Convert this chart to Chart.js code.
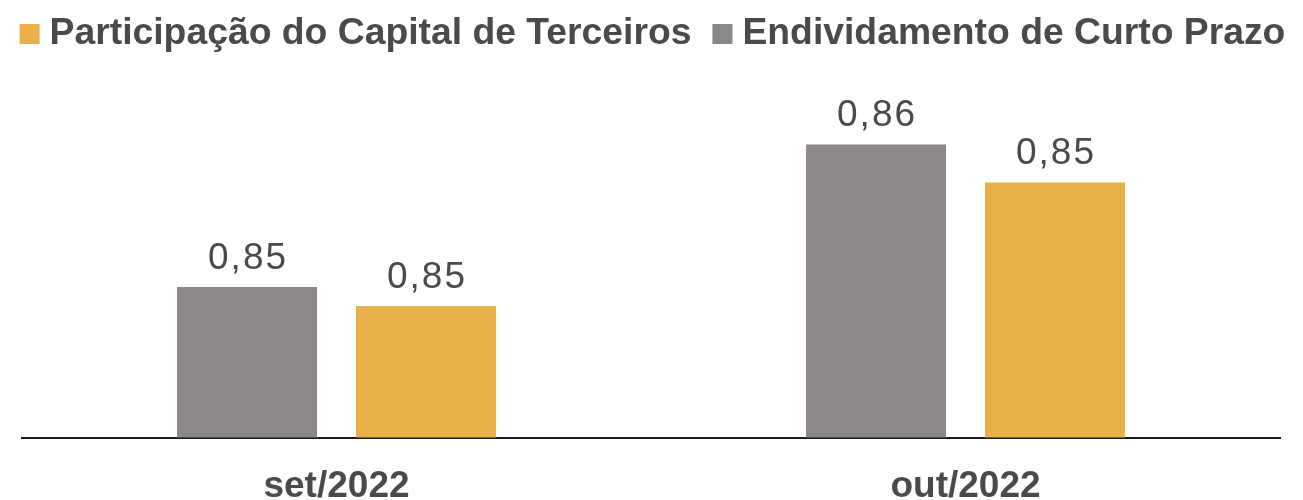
<!DOCTYPE html>
<html>
<head>
<meta charset="utf-8">
<script src="https://cdn.jsdelivr.net/npm/chart.js@4.4.0/dist/chart.umd.min.js"></script>
<style>
  html, body { margin: 0; padding: 0; overflow: hidden; background: #fff; }
  canvas { display: block; }
</style>
</head>
<body>
<canvas id="barChart" width="1303" height="536"></canvas>
<script>
const months = ['set/2022', 'out/2022'];
const curtoPrazo = [0.848, 0.857];
const capitalTerceiros = [0.8468, 0.8546];

const FONT = '"Liberation Sans", Arial, sans-serif';
const TEXT_COLOR = '#4a4a4a';

// legend drawn by hand so the spacing matches (orange entry first)
const customLegend = {
    id: 'customLegend',
    afterDraw(chart) {
        const ctx = chart.ctx;
        const items = chart.data.datasets.slice().reverse();
        ctx.save();
        ctx.font = 'bold 37.3px ' + FONT;
        ctx.textBaseline = 'middle';
        const box = 20, gapText = 10, gapItem = 21;
        const widths = items.map(ds => ctx.measureText(ds.label).width);
        let total = 0;
        widths.forEach((w, i) => { total += box + gapText + w + (i > 0 ? gapItem : 0); });
        let x = (chart.width - total) / 2 + 1;
        const cy = 34;
        items.forEach((ds, i) => {
            ctx.fillStyle = ds.backgroundColor;
            ctx.fillRect(x, cy - box / 2, box, box);
            x += box + gapText;
            ctx.fillStyle = TEXT_COLOR;
            ctx.fillText(ds.label, x, cy);
            x += widths[i] + gapItem;
        });
        ctx.restore();
    }
};

const valueLabels = {
    id: 'valueLabels',
    afterDatasetsDraw(chart) {
        const ctx = chart.ctx;
        ctx.save();
        ctx.font = '37px ' + FONT;
        ctx.letterSpacing = '2px';
        ctx.fillStyle = TEXT_COLOR;
        ctx.textAlign = 'center';
        ctx.textBaseline = 'alphabetic';
        chart.data.datasets.forEach((ds, i) => {
            chart.getDatasetMeta(i).data.forEach((bar, j) => {
                const txt = ds.data[j].toFixed(2).replace('.', ',');
                ctx.fillText(txt, bar.x + 1, bar.y - 18);
            });
        });
        ctx.restore();
    }
};

const ctx = document.getElementById('barChart').getContext('2d');
new Chart(ctx, {
    type: 'bar',
    data: {
        labels: months,
        datasets: [{
            label: 'Endividamento de Curto Prazo',
            data: curtoPrazo,
            backgroundColor: '#8b8786'
        }, {
            label: 'Participação do Capital de Terceiros',
            data: capitalTerceiros,
            backgroundColor: '#e9af48'
        }]
    },
    options: {
        responsive: false,
        animation: false,
        categoryPercentage: 0.569,
        barPercentage: 0.782,
        layout: { padding: { top: 70, left: 22, right: 23, bottom: 0 } },
        plugins: {
            legend: { display: false },
            tooltip: { enabled: false }
        },
        scales: {
            x: {
                grid: { display: false, drawTicks: false },
                border: { display: true, color: '#1a1a1a', width: 2 },
                ticks: {
                    padding: 27,
                    color: TEXT_COLOR,
                    font: { family: FONT, size: 37, weight: 'bold' }
                }
            },
            y: {
                display: false,
                min: 0.8385,
                max: 0.8617
            }
        }
    },
    plugins: [customLegend, valueLabels]
});
</script>
</body>
</html>
